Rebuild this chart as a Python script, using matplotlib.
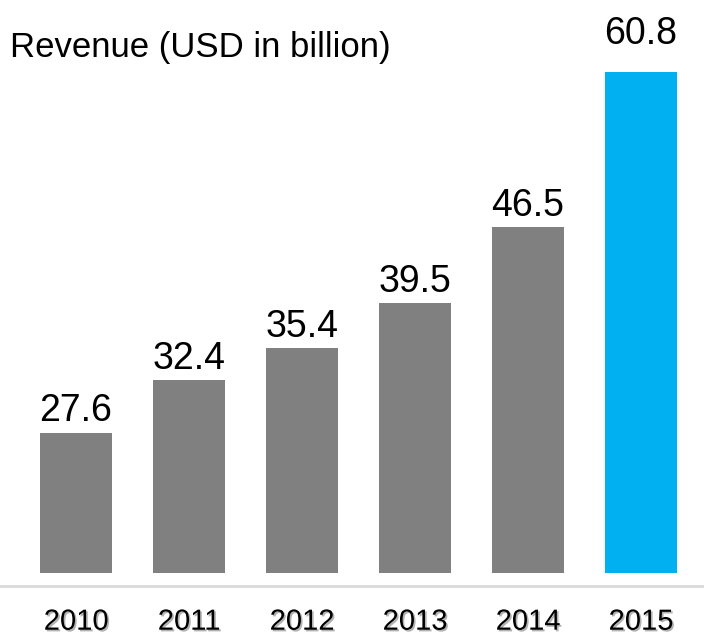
import matplotlib
matplotlib.use("Agg")
import matplotlib.pyplot as plt
from matplotlib import patheffects
from matplotlib.lines import Line2D

years = ["2010", "2011", "2012", "2013", "2014", "2015"]
revenue = [27.6, 32.4, 35.4, 39.5, 46.5, 60.8]
bar_colors = ["#808080", "#808080", "#808080", "#808080", "#808080", "#00B0F0"]

plt.rcParams["font.family"] = ["Liberation Sans", "DejaVu Sans"]

fig = plt.figure(figsize=(7.04, 6.35), dpi=100)
# axes bottom sits on the bar baseline, top goes to the figure edge
ax = fig.add_axes([0, 62 / 635, 1, 573 / 635])

x = list(range(len(years)))
bars = ax.bar(x, revenue, width=0.637, color=bar_colors)

for rect, val in zip(bars, revenue):
    # the last (highlighted) label floats a bit higher
    off = 8 if val < max(revenue) else 20
    ax.annotate(f"{val:.1f}", (rect.get_x() + rect.get_width() / 2, val),
                xytext=(0, off), textcoords="offset points",
                ha="center", va="baseline", fontsize=27, color="black")

ax.set_xlim(-0.673, 5.558)
ax.set_ylim(14.67, 67.43)

ax.set_xticks(x)
ax.set_xticklabels(years, fontsize=21)
ax.tick_params(axis="x", length=0, pad=25)
for lbl in ax.get_xticklabels():
    lbl.set_path_effects([patheffects.SimplePatchShadow(offset=(1.2, -1.2), alpha=0.3),
                          patheffects.Normal()])
ax.set_yticks([])
for s in ax.spines.values():
    s.set_visible(False)

# light base line under the bars
fig.add_artist(Line2D([0, 1], [1 - 586 / 635, 1 - 586 / 635], color="#D9D9D9",
                      lw=2, transform=fig.transFigure))

fig.text(10 / 704, 1 - 48 / 635, "Revenue (USD in billion)", fontsize=25,
         ha="left", va="center", color="black")

fig.savefig("out.png", dpi=100, facecolor="white")
